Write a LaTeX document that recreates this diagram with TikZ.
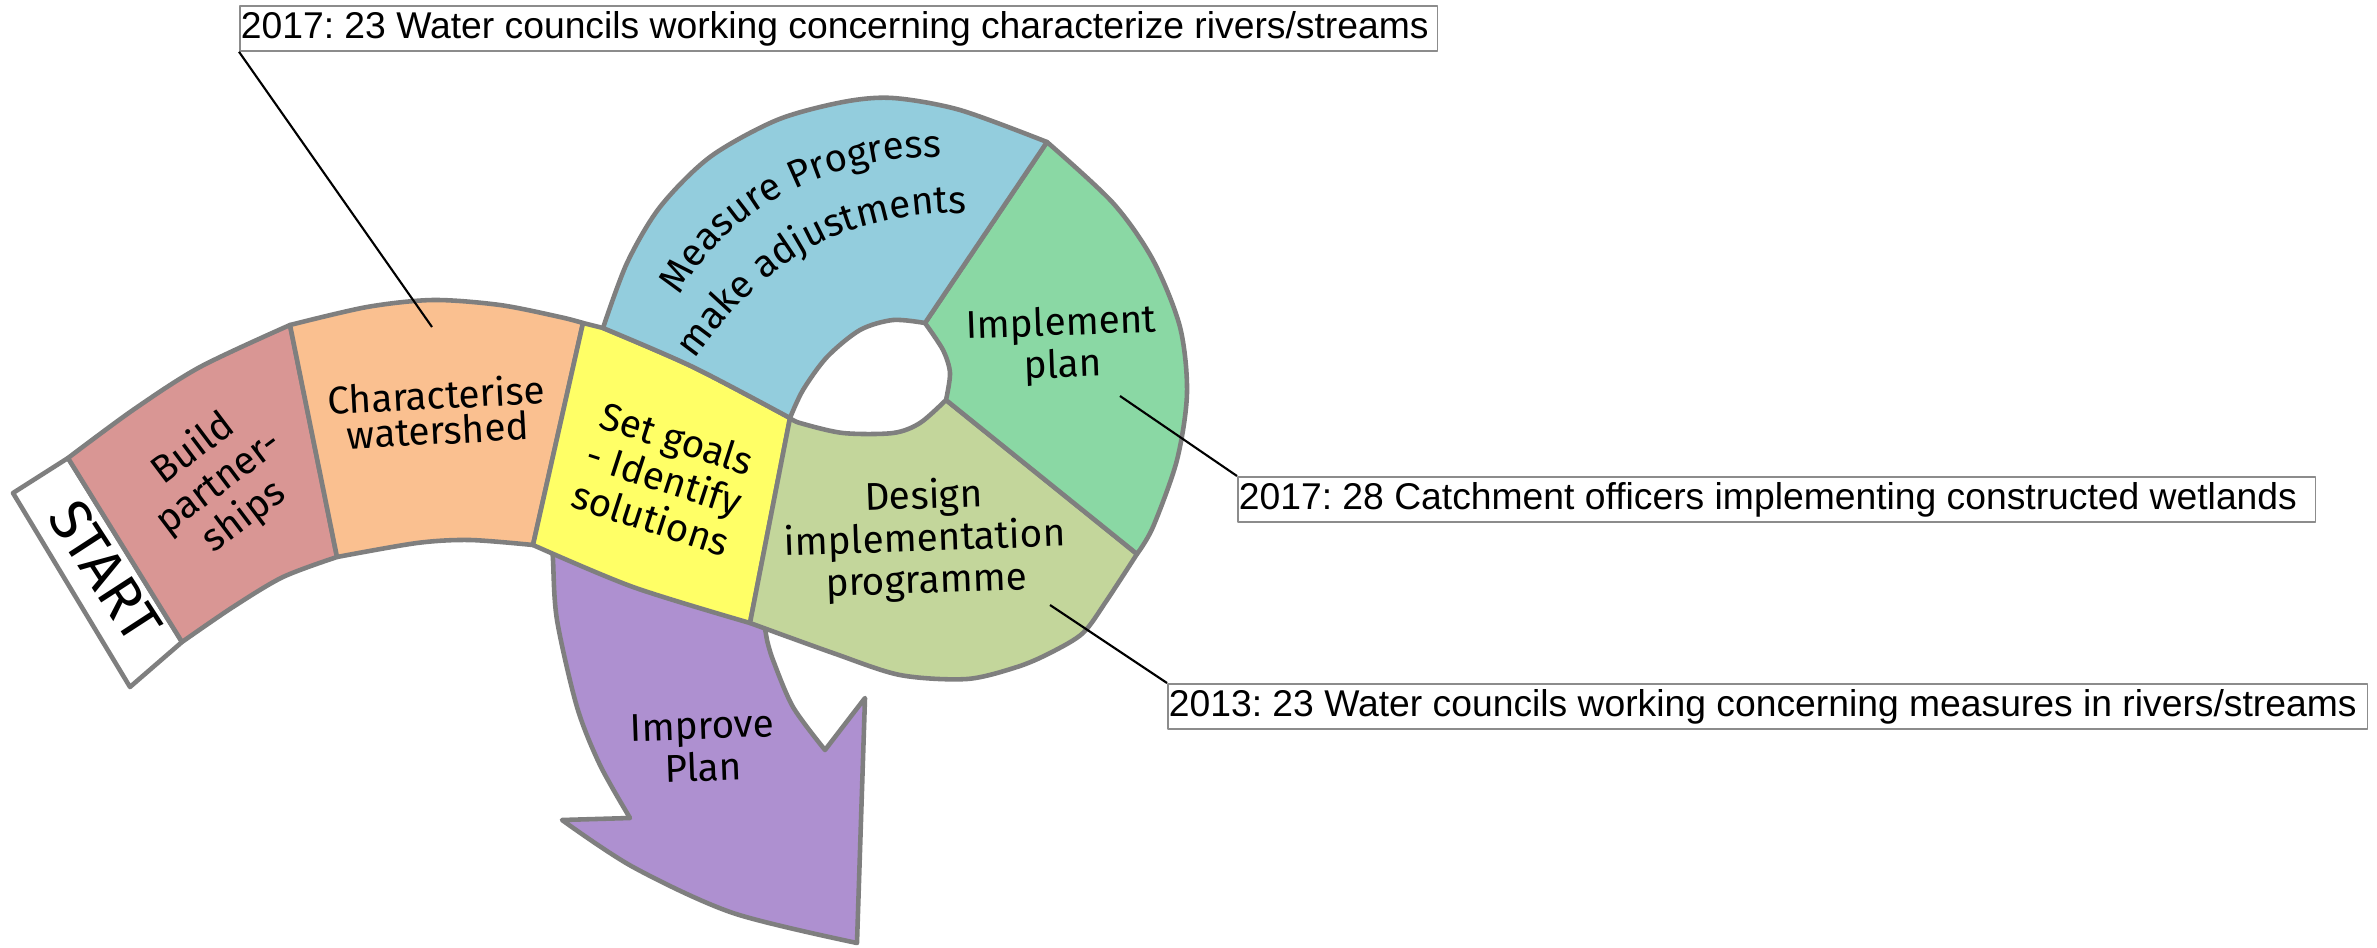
\documentclass[tikz,border=0pt]{standalone}
\usepackage{fontspec}
\newfontfamily\arialf{Liberation Sans}
\newfontfamily\handf{Fira Sans}
\usetikzlibrary{decorations.text}
\definecolor{outl}{HTML}{7F7F7F}
\definecolor{boxgray}{HTML}{8C8C8C}
\definecolor{cred}{HTML}{D99694}
\definecolor{corange}{HTML}{FAC090}
\definecolor{cyellow}{HTML}{FFFF66}
\definecolor{cblue}{HTML}{93CDDD}
\definecolor{cgreen}{HTML}{8AD8A4}
\definecolor{colive}{HTML}{C3D69B}
\definecolor{cpurple}{HTML}{AE90D0}
\frenchspacing
\begin{document}
\begin{tikzpicture}[x=0.01cm,y=-0.01cm,line join=round,
  region/.style={draw=outl,line width=1.3pt},
  lbl/.style={font=\handf\fontsize{11}{12}\selectfont,align=center,inner sep=0pt},
  callout/.style={draw=boxgray,line width=0.5pt,anchor=north west,inner xsep=0.01cm,inner ysep=0pt,
    minimum height=0.45cm,font=\arialf\fontsize{10.6}{12}\selectfont},
  leader/.style={draw=black,line width=0.6pt}]
\useasboundingbox (0,0) rectangle (2377,948);

% purple arrow (drawn first, partly hidden by the ribbon)
\filldraw[region,fill=cpurple] (552,540) -- plot[smooth] coordinates {(552,540) (553,560) (557,620) (577,707) (600,765) (630,818)}
  -- (562,820) -- plot[smooth] coordinates {(562,820) (633,867) (733,913) (857,943)}
  -- (865,698) -- (825,750) -- plot[smooth] coordinates {(825,750) (793,707) (773,660) (767,640)}
  -- (760,600) -- cycle;

% START
\filldraw[region,fill=white] (13,493) -- (68,458) -- (182,642) -- (130,687) -- cycle;
% red
\filldraw[region,fill=cred] (68,458) -- plot[smooth] coordinates {(68,458) (133,410) (200,367) (290,325)}
  -- (337,557) -- plot[smooth] coordinates {(337,557) (283,577) (233,607) (182,642)} -- cycle;
% orange
\filldraw[region,fill=corange] (290,325) -- plot[smooth] coordinates {(290,325) (367,307) (433,300) (500,305) (560,317) (583,323)}
  -- (533,545) -- plot[smooth] coordinates {(533,545) (470,540) (417,543) (337,557)} -- cycle;
% yellow
\filldraw[region,fill=cyellow] (583,323) -- (603,328) -- plot[smooth] coordinates {(603,328) (693,367) (790,418)}
  -- (750,623) -- plot[smooth] coordinates {(750,623) (633,587) (533,545)} -- cycle;
% olive
\filldraw[region,fill=colive] (790,418) -- plot[smooth] coordinates {(790,418) (800,423) (843,433) (893,433) (920,423) (946,400)}
  -- (1137,554) -- plot[smooth] coordinates {(1137,554) (1107,600) (1083,633) (1050,653) (1017,667) (967,679) (900,675) (833,653) (750,623)} -- cycle;
% green
\filldraw[region,fill=cgreen] (946,400) -- (1137,554) -- plot[smooth] coordinates {(1137,554) (1153,527) (1177,460) (1187,393) (1180,327) (1153,260) (1113,203) (1047,142)}
  -- (925,323) -- plot[smooth] coordinates {(925,323) (943,350) (950,373) (946,400)} -- cycle;
% blue
\filldraw[region,fill=cblue] (603,328) -- plot[smooth] coordinates {(603,328) (627,263) (660,207) (710,157) (777,120) (843,102) (893,98) (960,110) (1047,142)}
  -- (925,323) -- plot[smooth] coordinates {(925,323) (893,320) (860,330) (827,357) (803,390) (790,418)}
  -- plot[smooth] coordinates {(790,418) (693,367) (603,328)} -- cycle;

% labels
\node[lbl,rotate=-57,font=\handf\fontsize{16.5}{18}\selectfont] (lstart) at (105,571) {START};
\node[lbl,rotate=37] (lbuild) at (219,483) {Build\\partner-\\ships};
\node[lbl,rotate=3,font=\handf\fontsize{11}{10}\selectfont] (lchar) at (437,412) {Characterise\\watershed};
\node[lbl,rotate=-18] (lset) at (664,478) {Set goals\\- Identify\\solutions};
\node[lbl,rotate=2] (limpl) at (1062,346) {Implement\\plan};
\node[lbl,rotate=2] (ldesign) at (925,540) {Design\\implementation\\programme};
\node[lbl,rotate=2] (limprove) at (703,747) {Improve\\Plan};
\path[decorate,decoration={text along path,text align=center,
    text={|\handf\fontsize{11}{12}\selectfont|Measure Progress}}]
  (663,325) -- (683,290) .. controls (722,220) and (815,158) .. (935,157) -- (975,157);
\path[decorate,decoration={text along path,text align=center,
    text={|\handf\fontsize{11}{12}\selectfont|make adjustments}}]
  (677,384) -- (700,352) .. controls (760,270) and (830,215) .. (957,213) -- (997,213);

% callouts
\node[callout] (c1) at (239,5)
  {\makebox[11.95cm][l]{2017: 23 Water councils working concerning characterize rivers/streams}};
\node[callout] (c2) at (1237,476)
  {\makebox[10.75cm][l]{2017: 28 Catchment officers implementing constructed wetlands}};
\node[callout] (c3) at (1167,683)
  {\makebox[11.97cm][l]{2013: 23 Water councils working concerning measures in rivers/streams}};
\coordinate (t1) at (432,327);
\coordinate (t2) at (1120,396);
\coordinate (t3) at (1050,605);
\draw[leader] (c1.south west) -- (t1);
\draw[leader] (c2.north west) -- (t2);
\draw[leader] (c3.north west) -- (t3);
\end{tikzpicture}
\end{document}
